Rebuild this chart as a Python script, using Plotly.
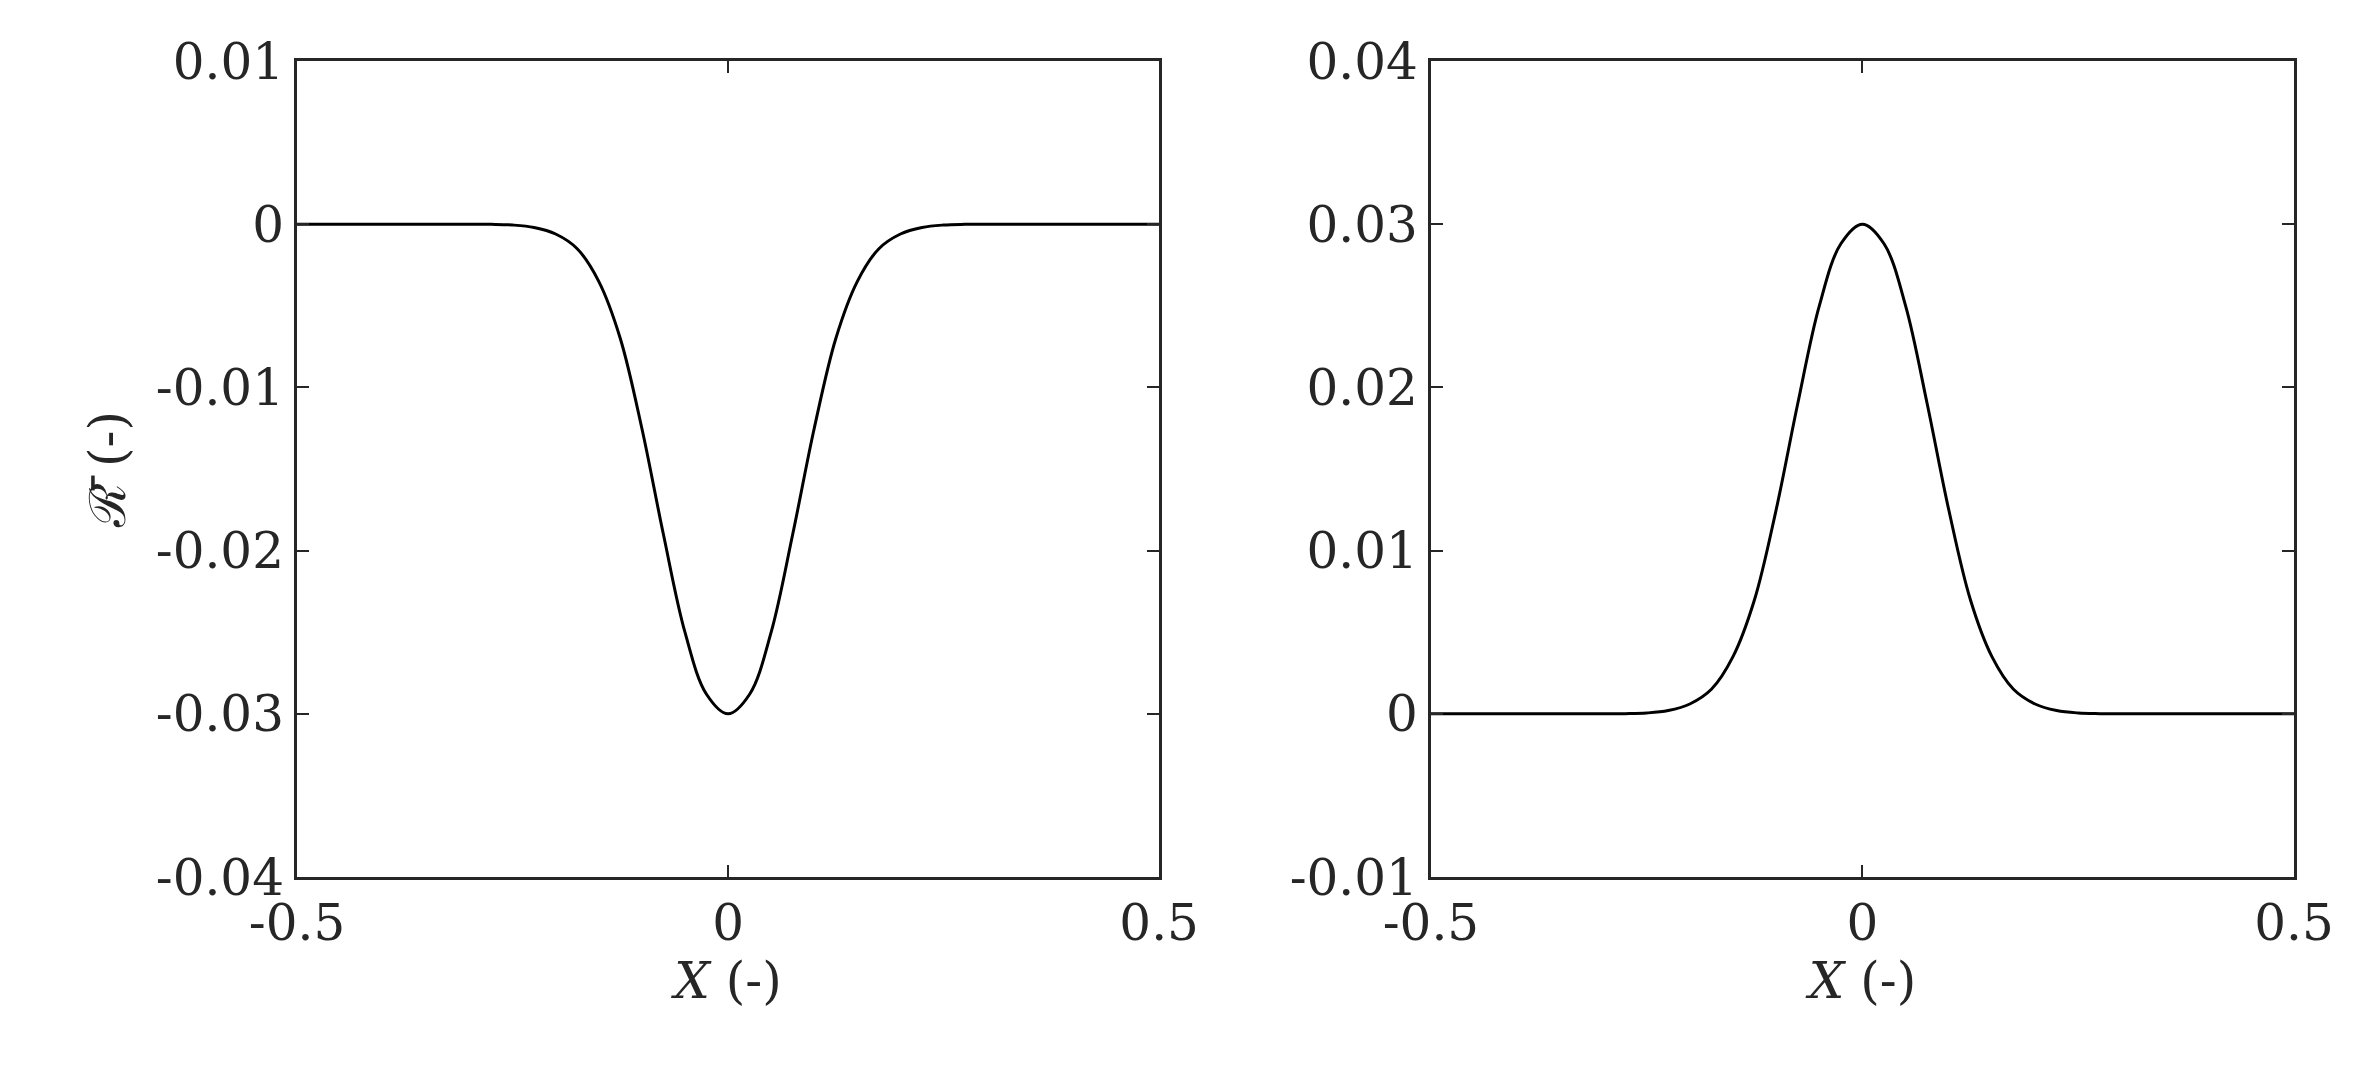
import plotly.graph_objects as go
from plotly.subplots import make_subplots

x_vals = [-0.5, -0.4, -0.3, -0.275, -0.25, -0.225, -0.2, -0.175, -0.15, -0.125, -0.1, -0.075, -0.05, -0.025, 0.0,
          0.025, 0.05, 0.075, 0.1, 0.125, 0.15, 0.175, 0.2, 0.225, 0.25, 0.275, 0.3, 0.4, 0.5]
peak_vals = [0, 0, 0, 0.00001, 0.00005, 0.0002, 0.0006, 0.0015, 0.0035, 0.0070, 0.0125, 0.0190, 0.0250, 0.0288, 0.0300,
             0.0288, 0.0250, 0.0190, 0.0125, 0.0070, 0.0035, 0.0015, 0.0006, 0.0002, 0.00005, 0.00001, 0, 0, 0]
left_vals = [-v for v in peak_vals]
right_vals = peak_vals
x_ticks = [-0.5, 0, 0.5]
x_ticktext = ["-0.5", "0", "0.5"]
left_ticks = [-0.04, -0.03, -0.02, -0.01, 0, 0.01]
left_ticktext = ["-0.04", "-0.03", "-0.02", "-0.01", "0", "0.01"]
right_ticks = [-0.01, 0, 0.01, 0.02, 0.03, 0.04]
right_ticktext = ["-0.01", "0", "0.01", "0.02", "0.03", "0.04"]

fig = make_subplots(rows=1, cols=2)
fig.add_trace(go.Scatter(x=x_vals, y=left_vals, mode="lines", line=dict(color="black", width=3, shape="spline")), 1, 1)
fig.add_trace(go.Scatter(x=x_vals, y=right_vals, mode="lines", line=dict(color="black", width=3, shape="spline")), 1, 2)

font = dict(family="DejaVu Serif", size=50, color="#262626")
ax = dict(showgrid=False, zeroline=False, showline=True, linecolor="#262626", linewidth=3, mirror="ticks",
          ticks="inside", ticklen=12, tickwidth=2, tickcolor="#262626", tickfont=font)
fig.update_xaxes(**ax, range=[-0.5, 0.5], tickvals=x_ticks, ticktext=x_ticktext,
                 title=dict(text="<i>X</i> (-)", font=font, standoff=10))
fig.update_xaxes(domain=[0, 0.4317], row=1, col=1)
fig.update_xaxes(domain=[0.5678, 1], row=1, col=2)
fig.update_yaxes(**ax)
fig.update_yaxes(range=[-0.04, 0.01], tickvals=left_ticks, ticktext=left_ticktext,
                 title=dict(text="ℛ̄ (-)", font=font, standoff=15), row=1, col=1)
fig.update_yaxes(range=[-0.01, 0.04], tickvals=right_ticks, ticktext=right_ticktext, row=1, col=2)
fig.update_layout(width=2357, height=1081, showlegend=False, plot_bgcolor="white", paper_bgcolor="white",
                  margin=dict(l=289, r=71, t=53, b=212))
fig.write_html("out.html")
